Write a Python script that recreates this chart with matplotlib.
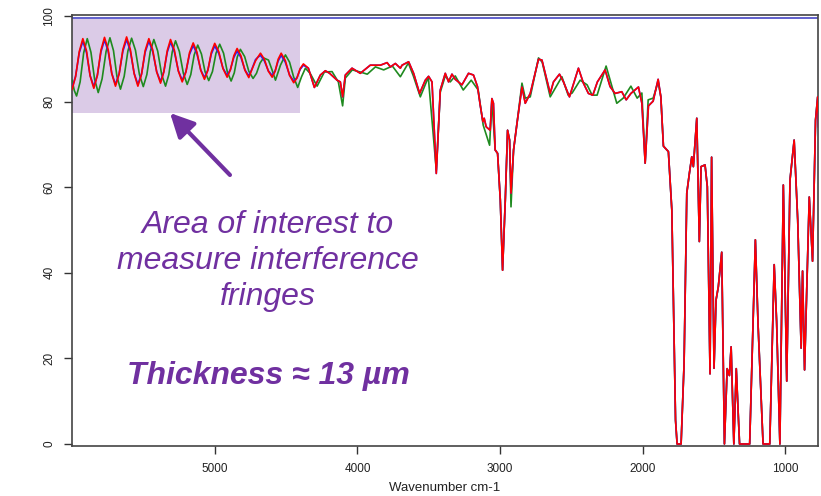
import matplotlib.pyplot as plt
import numpy as np
from matplotlib.patches import Rectangle

plt.rcParams['font.family'] = ['Liberation Sans', 'DejaVu Sans']

# Spectrum 1 (red), wavenumber (cm-1) / transmittance (%)
red_wn = [6002, 5977, 5951, 5926, 5900, 5875, 5849, 5824, 5799, 5774, 5748, 5723, 5697, 5671,
          5645, 5619, 5593, 5566, 5540, 5514, 5489, 5463, 5436, 5408, 5381, 5358, 5334, 5311,
          5284, 5256, 5229, 5203, 5178, 5152, 5126, 5099, 5073, 5049, 5025, 5001, 4972, 4943,
          4914, 4891, 4867, 4844, 4817, 4789, 4762, 4740, 4715, 4700, 4680, 4653, 4625, 4598,
          4577, 4556, 4535, 4506, 4476, 4447, 4424, 4402, 4379,
          4344, 4302, 4260, 4225, 4195, 4143, 4120, 4104, 4085, 4038, 3980, 3910, 3839, 3792,
          3769, 3734, 3699, 3687, 3641, 3606, 3564, 3524, 3501, 3477, 3447, 3419, 3384, 3361,
          3337, 3314, 3267, 3221, 3186, 3158, 3139, 3120, 3111, 3097, 3069, 3057, 3046, 3034,
          3017, 2998, 2982, 2963, 2947, 2933, 2923, 2905, 2881, 2846, 2823, 2788, 2730, 2706,
          2648, 2625, 2583, 2555, 2513, 2450, 2415, 2380, 2349, 2317, 2263, 2228, 2193, 2146,
          2115, 2082, 2029, 2005, 1982, 1959, 1926, 1891, 1872,
          1854, 1819, 1795, 1769, 1758, 1730, 1709, 1690, 1672, 1655, 1644, 1620, 1602, 1590,
          1562, 1546, 1527, 1516, 1499, 1485, 1469, 1445, 1426, 1407, 1391, 1379, 1360, 1343,
          1320, 1249, 1209, 1190, 1155, 1108, 1077, 1060, 1037, 1013, 989, 966, 937, 912, 888,
          878, 864, 831, 808, 787, 772, 766]
red_t = [82.8, 85.8, 91.7, 94.7, 91.8, 86.0, 83.1, 86.1, 92.0, 95.0, 92.1, 86.5, 83.6, 86.5,
         92.2, 95.1, 92.2, 86.5, 83.6, 86.4, 91.9, 94.7, 92.1, 86.9, 84.3, 86.9, 91.9, 94.5,
         92.0, 87.1, 84.6, 86.9, 91.4, 93.7, 91.6, 87.3, 85.2, 87.3, 91.5, 93.6, 91.6, 87.7,
         85.7, 87.4, 90.7, 92.4, 90.7, 87.3, 85.6, 87.5, 89.5, 90.3, 91.3, 89.9, 87.1, 85.7,
         87.1, 89.9, 91.3, 89.6, 86.1, 84.4, 85.5, 87.7, 88.8,
         87.8, 83.3, 86.2, 87.2, 86.6, 85.0, 84.6, 81.1, 86.2, 87.8, 86.6, 88.5, 88.5, 89.1,
         88.1, 88.9, 87.8, 88.5, 89.3, 86.6, 81.9, 85.0, 85.9, 84.6, 63.2, 82.7, 86.6, 84.6,
         86.4, 85.2, 83.9, 86.6, 86.2, 83.5, 79.2, 75.3, 76.1, 74.1, 73.3, 80.7, 79.6, 68.7,
         67.9, 57.0, 40.6, 57.0, 73.3, 71.0, 58.6, 68.7, 74.9, 83.4, 79.6, 81.9, 89.9, 89.7,
         81.9, 84.6, 86.4, 84.6, 81.1, 87.8, 84.3, 81.9, 81.5, 84.6, 87.4, 83.5, 81.9, 82.3,
         80.4, 81.9, 83.4, 79.6, 65.6, 79.0, 80.1, 85.2, 81.1,
         69.6, 68.3, 54.7, 5.6, 0.0, 0.0, 18.8, 58.6, 63.2, 67.1, 64.8, 76.1, 47.3, 64.8,
         65.2, 60.1, 16.4, 67.0, 17.7, 33.6, 36.7, 44.8, 0.0, 17.6, 16.0, 22.7, 0.0, 17.6,
         0.0, 0.0, 47.7, 27.8, 0.0, 0.0, 41.9, 28.6, 0.0, 60.5, 14.7, 61.7, 71.0, 52.3, 22.4,
         40.4, 17.3, 57.7, 42.7, 75.7, 81.1, 74.0]

# Spectrum 2 (blue), fringe region; below 4380 cm-1 it follows spectrum 1
blue_fringe_wn = [6002, 5977, 5951, 5926, 5900, 5875, 5849, 5824, 5799, 5774, 5748, 5723, 5697,
                  5671, 5645, 5619, 5593, 5566, 5540, 5514, 5489, 5463, 5436, 5408, 5381, 5358,
                  5334, 5311, 5284, 5256, 5229, 5203, 5178, 5152, 5126, 5099, 5073, 5049, 5025,
                  5001, 4972, 4943, 4914, 4891, 4867, 4844, 4817, 4789, 4762, 4740, 4715, 4700,
                  4680, 4653, 4625, 4598, 4577, 4556, 4535, 4506, 4476, 4447, 4424, 4402, 4379]
blue_fringe_t = [83.2, 85.9, 91.4, 94.1, 91.4, 86.1, 83.5, 86.2, 91.6, 94.4, 91.7, 86.6, 84.0,
                 86.6, 91.8, 94.5, 91.8, 86.6, 84.0, 86.5, 91.5, 94.1, 91.7, 87.0, 84.7, 87.0,
                 91.5, 93.9, 91.6, 87.2, 85.0, 87.0, 91.0, 93.1, 91.2, 87.4, 85.6, 87.4, 91.1,
                 93.0, 91.2, 87.8, 86.1, 87.5, 90.3, 91.8, 90.3, 87.4, 86.0, 87.6, 89.8, 90.3,
                 90.8, 89.5, 87.2, 86.1, 87.2, 89.5, 90.8, 89.2, 86.2, 84.8, 85.6, 87.5, 88.5]

# Spectrum 3 (green), down to 1870 cm-1; below that it follows spectrum 1
green_wn = [6002, 5986, 5970, 5945, 5920, 5895, 5869, 5844, 5818, 5791, 5763, 5736, 5711, 5687,
            5662, 5636, 5610, 5584, 5557, 5529, 5502, 5477, 5453, 5428, 5401, 5373, 5346, 5323,
            5299, 5276, 5249, 5221, 5194, 5169, 5145, 5120, 5094, 5069, 5043, 5017, 4992, 4966,
            4939, 4913, 4886, 4864, 4843, 4821, 4791, 4762, 4732, 4708, 4683, 4659, 4624, 4600,
            4575, 4540, 4505, 4476, 4448, 4419, 4392, 4365, 4330, 4283, 4232, 4178, 4134, 4104,
            4085, 4036, 3980, 3931, 3874, 3816, 3755, 3699, 3643, 3608, 3559, 3503, 3447, 3419,
            3384, 3349, 3314, 3258, 3202, 3153, 3118, 3073, 3057, 3034, 3017, 2998, 2982, 2963,
            2947, 2933, 2923, 2905, 2881, 2846, 2823, 2788, 2730, 2704, 2648, 2566, 2522, 2494,
            2438, 2389, 2354, 2319, 2256, 2181, 2136, 2082, 2038, 2005, 1982, 1961, 1926, 1891,
            1872]
green_t = [85.0, 82.6, 81.3, 84.6, 91.4, 94.7, 91.5, 85.3, 82.1, 85.3, 91.7, 94.9, 91.9, 85.9,
           82.9, 85.9, 91.8, 94.8, 92.0, 86.3, 83.5, 86.3, 91.7, 94.5, 91.8, 86.3, 83.6, 86.3,
           91.6, 94.2, 91.7, 86.6, 84.0, 86.3, 90.9, 93.2, 91.1, 87.0, 84.9, 87.0, 91.3, 93.4,
           91.3, 87.0, 84.8, 86.7, 90.4, 92.2, 90.5, 87.1, 85.4, 86.6, 89.0, 90.2, 89.7, 87.5,
           85.0, 88.5, 90.9, 89.2, 85.8, 83.3, 85.8, 87.8, 86.5, 83.6, 86.9, 87.0, 84.6, 79.0,
           85.5, 87.4, 86.9, 86.4, 88.1, 87.4, 88.3, 85.8, 89.0, 86.0, 81.1, 85.7, 64.0, 82.2,
           86.0, 84.6, 86.0, 82.7, 85.0, 82.7, 74.5, 69.8, 80.4, 68.7, 67.9, 57.0, 40.6, 57.0,
           73.3, 71.0, 55.4, 68.7, 74.9, 84.3, 80.8, 81.1, 90.2, 89.2, 81.1, 85.8, 81.5, 82.0,
           85.0, 83.9, 81.5, 81.5, 88.3, 79.6, 80.8, 83.6, 80.8, 82.0, 65.6, 80.4, 80.8, 84.6,
           81.1]

# 100 % reference line
ref_wn = [6002, 770]
ref_t = [99.6, 99.6]

# highlighted fringe window
win_wn = (6002, 4400)
win_t = (77.4, 99.3)

red_wn = np.array(red_wn)
red_t = np.array(red_t)
tail = red_wn < 4370
blue_wn = np.concatenate([blue_fringe_wn, red_wn[tail]])
blue_t = np.concatenate([blue_fringe_t, red_t[tail]])
tail = red_wn < 1860
green_wn = np.concatenate([green_wn, red_wn[tail]])
green_t = np.concatenate([green_t, red_t[tail]])

purple = '#7030a0'

fig = plt.figure(figsize=(8.21, 4.96), dpi=100)
ax = fig.add_axes([0.0877, 0.1008, 0.9086, 0.8690])

ax.add_patch(Rectangle((win_wn[1], win_t[0]), win_wn[0] - win_wn[1], win_t[1] - win_t[0],
                       facecolor='#dbcbe7', edgecolor='none', zorder=1))

line_kw = dict(lw=1.2, solid_joinstyle='round', solid_capstyle='round')
ax.plot(ref_wn, ref_t, color='#3535c0', lw=1.1, zorder=2)
ax.plot(green_wn, green_t, color='#1f8a1f', zorder=3, **line_kw)
ax.plot(blue_wn, blue_t, color='#2020ff', zorder=4, **line_kw)
ax.plot(red_wn, red_t, color='#ff0000', zorder=5, **line_kw)

ax.set_xlim(6002, 770)
ax.set_ylim(-0.47, 100.23)
ax.set_xticks([5000, 4000, 3000, 2000, 1000])
ax.set_yticks([0, 20, 40, 60, 80, 100])
ax.tick_params(axis='both', length=6, width=1, color='#333333', labelsize=8.5,
               labelcolor='#222222', pad=6)
plt.setp(ax.get_yticklabels(), rotation=90, va='center')
for s in ax.spines.values():
    s.set_color('#444444')
    s.set_linewidth(1.2)
ax.set_xlabel('Wavenumber cm-1', fontsize=9.5, color='#222222', labelpad=5)

fig.text(0.3264, 0.4738, 'Area of interest to\nmeasure interference\nfringes',
         ha='center', va='center', color=purple, fontsize=23, style='italic',
         linespacing=1.28)
fig.text(0.3264, 0.242, 'Thickness \u2248 13 \u00b5m', ha='center', va='center',
         color=purple, fontsize=23, style='italic', weight='bold')

ax.annotate('', xy=(0.2071, 0.7722), xycoords='figure fraction',
            xytext=(0.2801, 0.6472), textcoords='figure fraction',
            arrowprops=dict(arrowstyle='-|>,head_length=0.9,head_width=0.45',
                            mutation_scale=16, lw=3, color=purple,
                            shrinkA=0, shrinkB=0))

fig.savefig('out.png', dpi=100)
